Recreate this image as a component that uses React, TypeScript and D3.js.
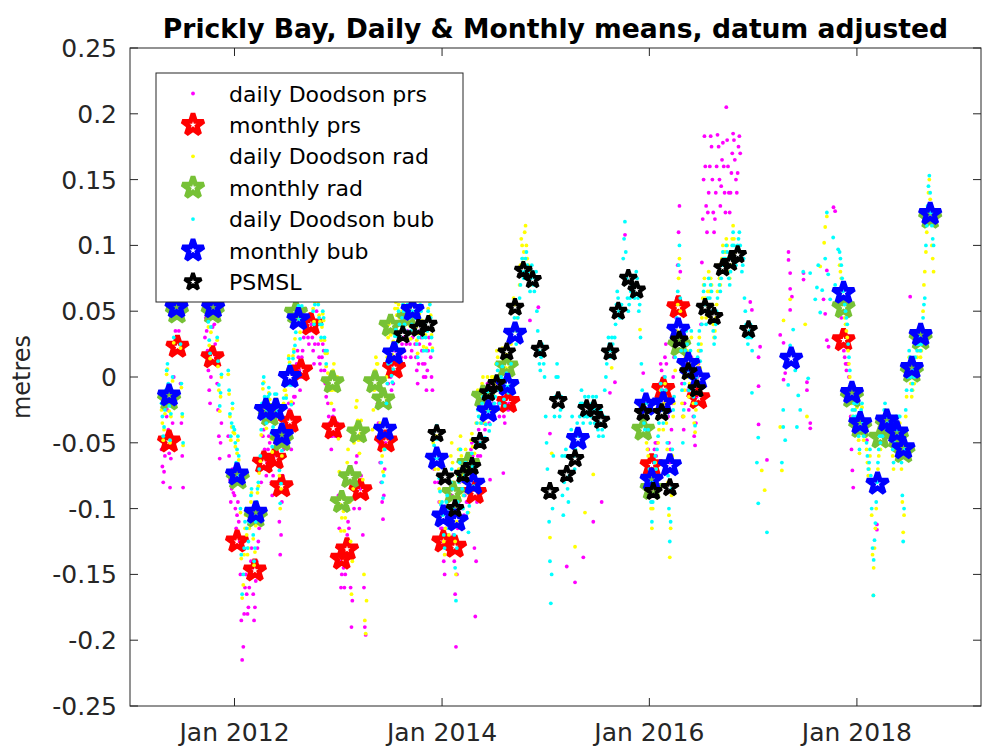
import React from "react";
import * as d3 from "d3";

const W = 982;
const H = 747;
const X0 = 130;
const X1 = 981;
const Y0 = 48;
const Y1 = 706;

const n = null;

// monthly means: [decimal year, metres]
const prsMonthly: [number, number][] = [
  [2011.369, -0.049], [2011.45, 0.023], [2011.788, 0.015], [2012.025, -0.125], [2012.196, -0.147],
  [2012.283, -0.065], [2012.389, -0.062], [2012.453, -0.083], [2012.533, -0.034], [2012.64, 0.005],
  [2012.736, 0.04], [2012.951, -0.039], [2013.032, -0.138], [2013.083, -0.131], [2013.213, -0.086],
  [2013.459, -0.049], [2013.537, 0.007], [2014.012, -0.125], [2014.125, -0.129], [2014.318, -0.088],
  [2014.639, -0.019], [2016.022, -0.067], [2016.134, -0.009], [2016.279, 0.053], [2016.472, -0.016],
  [2017.871, 0.028],
];

const radMonthly: [number, number][] = [
  [2011.369, -0.017], [2011.445, 0.049], [2011.79, 0.049], [2012.032, -0.077], [2012.205, -0.106],
  [2012.34, -0.029], [2012.456, -0.048], [2012.591, 0.049], [2012.943, -0.004], [2013.032, -0.095],
  [2013.112, -0.076], [2013.192, -0.042], [2013.353, -0.004], [2013.433, -0.017], [2013.503, 0.039],
  [2013.672, 0.045], [2014.108, -0.088], [2014.253, -0.066], [2014.395, -0.015], [2014.624, 0.008],
  [2015.941, -0.04], [2016.022, -0.085], [2016.288, 0.024], [2017.871, 0.053], [2017.952, -0.015],
  [2018.032, -0.038], [2018.226, -0.046], [2018.289, -0.036], [2018.386, -0.046], [2018.449, -0.057],
  [2018.53, 0.004], [2018.615, 0.029], [2018.707, 0.121],
];

const bubMonthly: [number, number][] = [
  [2011.369, -0.014], [2011.441, 0.053], [2011.794, 0.053], [2012.025, -0.074], [2012.205, -0.103],
  [2012.302, -0.025], [2012.398, -0.025], [2012.456, -0.044], [2012.533, 0.0], [2012.615, 0.044],
  [2013.45, -0.04], [2013.537, 0.018], [2013.715, 0.051], [2013.949, -0.062], [2014.012, -0.106],
  [2014.141, -0.109], [2014.302, -0.081], [2014.446, -0.026], [2014.631, -0.006], [2014.704, 0.033],
  [2015.311, -0.047], [2015.967, -0.021], [2016.022, -0.078], [2016.134, -0.02], [2016.198, -0.067],
  [2016.279, 0.036], [2016.375, 0.01], [2016.472, -0.001], [2017.366, 0.014], [2017.871, 0.064],
  [2017.952, -0.012], [2018.032, -0.035], [2018.199, -0.081], [2018.289, -0.033], [2018.386, -0.042],
  [2018.449, -0.054], [2018.53, 0.007], [2018.615, 0.032], [2018.707, 0.124],
];

const psmslMonthly: [number, number][] = [
  [2013.621, 0.032], [2013.771, 0.037], [2013.868, 0.04], [2013.949, -0.043], [2014.029, -0.076],
  [2014.125, -0.1], [2014.202, -0.074], [2014.289, -0.068], [2014.366, -0.049], [2014.446, -0.012],
  [2014.527, -0.005], [2014.624, 0.019], [2014.704, 0.053], [2014.784, 0.081], [2014.873, 0.074],
  [2014.945, 0.021], [2015.041, -0.087], [2015.121, -0.018], [2015.203, -0.074], [2015.283, -0.062],
  [2015.395, -0.024], [2015.466, -0.024], [2015.533, -0.033], [2015.622, 0.019], [2015.7, 0.05],
  [2015.797, 0.075], [2015.878, 0.066], [2015.941, -0.027], [2016.038, -0.087], [2016.119, -0.027],
  [2016.198, -0.084], [2016.288, 0.028], [2016.375, 0.004], [2016.456, -0.009], [2016.536, 0.053],
  [2016.623, 0.046], [2016.705, 0.083], [2016.78, 0.087], [2016.85, 0.093], [2016.954, 0.036],
];

// daily values in mm, sampled on days 1, 4, 7 ... 28 of each month
const prsDaily: [string, (number | null)[]][] = [
  ["2011-04", [n, n, n, n, n, n, -55, -68, -80, -72]],
  ["2011-05", [-60, -45, -30, -25, -40, -58, -84, -62, -45, -35]],
  ["2011-06", [0, 20, 35, 50, 55, 45, 35, 20, -5, -35]],
  ["2011-07", [-60, -84, n, n, n, n, n, n, n, n]],
  ["2011-09", [n, n, n, n, n, n, 30, 45, 35, 20]],
  ["2011-10", [5, -10, -20, 0, 20, 38, 48, 40, 25, 15]],
  ["2011-11", [-5, -25, -45, -62, -50, -35, n, n, n, n]],
  ["2011-12", [n, n, n, -45, -60, -78, -95, -85, -70, -88]],
  ["2012-01", [-90, -100, -115, -105, -95, -110, -125, -150, -185, -215]],
  ["2012-02", [-205, -180, -160, -150, -165, -180, -175, -160, -150, -140]],
  ["2012-03", [-130, -145, -165, -185, -175, -155, -140, -130, -125, -115]],
  ["2012-04", [-100, -80, -60, -45, -40, -55, -70, -75, -65, -55]],
  ["2012-05", [-45, -50, -65, -80, -90, -75, -60, -50, -55, -50]],
  ["2012-06", [-65, -85, -110, -135, -120, -95, -75, -55, -45, -45]],
  ["2012-07", [-50, -40, -30, -20, -25, -40, -55, -40, -20, -15]],
  ["2012-08", [-15, -5, 10, 20, 15, 5, -10, 0, 15, 20]],
  ["2012-09", [30, 40, 52, 60, 45, 30, 25, 35, 45, 40]],
  ["2012-10", [30, 20, 10, 25, 40, 50, 40, 25, 15, 10]],
  ["2012-11", [5, 15, 25, 20, 5, -5, -15, -5, -20, -30]],
  ["2012-12", [-35, -45, -55, -45, -30, -25, -35, -45, -40, -35]],
  ["2013-01", [-90, -115, -140, -160, -150, -135, -145, -160, -150, -135]],
  ["2013-02", [-120, -110, -115, -135, -160, -190, -170, -130, -100, -90]],
  ["2013-03", [-80, -65, -60, -75, -90, -100, -85, -75, -90, -120]],
  ["2013-04", [-160, -190, -196, n, n, n, n, n, n, n]],
  ["2013-05", [n, n, n, n, n, n, -20, -35, -50, -65]],
  ["2013-06", [-80, -95, -108, -90, -70, -50, -35, -20, -5, 5]],
  ["2013-07", [10, 0, -10, -15, -5, 10, 20, 25, 15, 20]],
  ["2013-08", [30, 20, 10, 15, 25, 35, 30, 20, 15, 25]],
  ["2013-09", [35, 45, 40, 25, 15, 20, 30, 40, 35, 25]],
  ["2013-10", [15, 5, -5, 10, 25, 35, 30, 20, 10, 0]],
  ["2013-11", [10, 0, -10, 5, 20, 30, 25, 15, 0, -10]],
  ["2013-12", [-60, -70, -80, -65, -55, -65, -80, -95, -105, -115]],
  ["2014-01", [-115, -125, -140, -150, -130, -115, -110, -120, -135, -125]],
  ["2014-02", [-100, -90, -105, -120, -140, -165, -205, -150, -115, -95]],
  ["2014-03", [-95, -80, -70, -85, -100, -115, -105, -90, -80, -95]],
  ["2014-04", [-80, -95, -85, -70, -55, -50, -60, -75, -130, -182]],
  ["2014-05", [-140, -95, -60, -40, -50, -60, -45, -30, -25, -35]],
  ["2014-06", [-40, -30, -15, -5, -20, -35, -30, -15, -5, -10]],
  ["2014-07", [-20, -30, -25, -10, 0, -5, -20, -30, -20, -10]],
  ["2014-08", [-5, -15, -30, -35, -20, -10, -15, -25, -20, -15]],
  ["2015-12", [n, n, n, n, n, n, -20, -30, -45, -55]],
  ["2016-01", [-60, -70, -85, -95, -80, -65, -55, -50, -60, -50]],
  ["2016-02", [-30, -20, -5, 10, 5, -10, -20, 0, 15, 25]],
  ["2016-03", [10, -10, -30, -50, -65, -55, -40, -20, 0, 15]],
  ["2016-04", [30, 45, 60, 85, 110, 130, 80, 30, -5, -30]],
  ["2016-05", [-40, -20, 5, 20, 10, -10, -25, -15, 5, 15]],
  ["2016-06", [-10, -30, -45, -52, -35, -15, 0, 10, 20, -5]],
  ["2016-07", [40, 87, 120, 150, 183, 160, 130, 110, 125, 140]],
  ["2016-08", [160, 183, 175, 150, 125, 110, 120, 140, 160, 184]],
  ["2016-09", [175, 150, 130, 145, 165, 178, 160, 140, 125, 205]],
  ["2016-10", [180, 160, 140, 125, 140, 155, 170, 185, 180, 165]],
  ["2016-11", [150, 140, 155, 175, 183, 170, n, n, n, n]],
  ["2017-11", [60, 55, 45, 35, 25, 20, 15, 10, 5, 10]],
  ["2017-12", [10, 0, -8, -30, -55, -71, -84, n, n, n]],
];

const radDaily: [string, (number | null)[]][] = [
  ["2011-04", [n, n, n, n, n, n, -25, -35, -48, -40]],
  ["2011-05", [-28, -14, 2, 6, -8, -26, -50, -30, -14, -3]],
  ["2011-06", [26, 46, 62, 74, 80, 72, 60, 46, 22, -8]],
  ["2011-07", [-30, -52, n, n, n, n, n, n, n, n]],
  ["2011-09", [n, n, n, n, n, n, 62, 75, 66, 52]],
  ["2011-10", [38, 24, 14, 34, 54, 70, 80, 74, 58, 46]],
  ["2011-11", [28, 8, -10, -26, -15, 0, n, n, n, n]],
  ["2011-12", [n, n, n, 2, -13, -30, -48, -38, -24, -42]],
  ["2012-01", [-43, -53, -68, -58, -48, -63, -78, -103, -138, -168]],
  ["2012-02", [-158, -135, -115, -105, -120, -135, -130, -115, -105, -95]],
  ["2012-03", [-88, -103, -123, -143, -133, -113, -98, -88, -83, -73]],
  ["2012-04", [-64, -44, -24, -9, -4, -19, -34, -39, -29, -19]],
  ["2012-05", [-12, -17, -32, -47, -57, -42, -27, -17, -22, -17]],
  ["2012-06", [-30, -50, -75, -100, -85, -60, -40, -20, -10, -10]],
  ["2012-07", [-14, -4, 6, 16, 11, -4, -19, -4, 16, 21]],
  ["2012-08", [29, 39, 54, 64, 59, 49, 34, 44, 59, 64]],
  ["2012-09", [68, 78, 90, 98, 83, 68, 63, 73, 83, 78]],
  ["2012-10", [62, 52, 42, 57, 72, 82, 72, 57, 47, 42]],
  ["2012-11", [28, 38, 48, 43, 28, 18, 8, 18, 3, -7]],
  ["2012-12", [0, -10, -20, -10, 5, 10, 0, -10, -5, 0]],
  ["2013-01", [-47, -72, -97, -117, -107, -92, -102, -117, -107, -92]],
  ["2013-02", [-65, -55, -70, -95, -125, -165, -140, -85, -50, -40]],
  ["2013-03", [-38, -23, -18, -33, -48, -58, -43, -33, -48, -78]],
  ["2013-04", [-150, -185, -195, -170, n, n, n, n, n, n]],
  ["2013-05", [-40, -25, -10, 5, 15, 10, 10, -5, -20, -35]],
  ["2013-06", [-45, -60, -72, -55, -35, -15, 0, 15, 30, 40]],
  ["2013-07", [42, 32, 22, 17, 27, 42, 52, 57, 47, 52]],
  ["2013-08", [55, 45, 35, 40, 50, 60, 55, 45, 40, 50]],
  ["2013-09", [49, 59, 54, 39, 29, 34, 44, 54, 49, 39]],
  ["2013-10", [38, 28, 18, 33, 48, 58, 53, 43, 33, 23]],
  ["2013-11", [42, 32, 22, 37, 52, 62, 57, 47, 32, 22]],
  ["2013-12", [-50, -60, -70, -55, -45, -55, -70, -85, -95, -105]],
  ["2014-01", [-100, -110, -125, -135, -115, -100, -95, -105, -120, -110]],
  ["2014-02", [-60, -50, -65, -80, -100, -125, -150, -110, -75, -55]],
  ["2014-03", [-70, -55, -45, -60, -75, -90, -80, -65, -55, -70]],
  ["2014-04", [-88, -103, -83, -63, -48, -43, -53, -68, -58, -53]],
  ["2014-05", [-35, -20, -10, -15, -30, -35, -20, -5, 0, -10]],
  ["2014-06", [-35, -25, -10, 0, -15, -30, -25, -10, 0, -5]],
  ["2014-07", [0, -10, -5, 10, 20, 15, 0, -10, 0, 10]],
  ["2014-08", [22, 12, -3, -8, 7, 17, 12, 2, 7, 12]],
  ["2014-09", [25, 35, 50, 60, 55, 40, 35, 45, 55, 50]],
  ["2014-10", [70, 85, 105, 100, 90, 95, 110, 115, 100, 90]],
  ["2014-11", [85, 75, 70, 80, n, n, n, n, n, n]],
  ["2015-12", [n, n, n, n, -20, -30, -45, -50, -55, -60]],
  ["2016-01", [-75, -85, -100, -115, -100, -85, -70, -65, -75, -80]],
  ["2016-02", [-50, -40, -25, -10, -15, -30, -40, -20, -5, -15]],
  ["2016-03", [-35, -55, -80, -105, -137, -115, -90, -60, -30, -20]],
  ["2016-04", [5, 20, 35, 55, 75, 90, 50, 10, -20, -30]],
  ["2016-05", [-30, -10, 15, 30, 20, 0, -15, -5, 15, 30]],
  ["2016-06", [0, -20, -35, -42, -25, -5, 10, 20, 30, 7]],
  ["2016-07", [25, 45, 60, 70, 75, 60, 45, 55, 65, 80]],
  ["2016-08", [65, 75, 70, 55, 40, 30, 35, 45, 55, 65]],
  ["2016-09", [85, 75, 70, 80, 90, 100, 95, 90, 95, 105]],
  ["2016-10", [100, 90, 80, 75, 85, 95, 105, 115, 105, 95]],
  ["2017-11", [85, 80, 75, 65, 55, 50, 45, 40, 35, 30]],
  ["2017-12", [20, 10, 0, -10, -20, -30, -35, -25, -25, -35]],
  ["2018-01", [-23, -33, -48, -58, -43, -28, -23, -38, -48, -38]],
  ["2018-02", [-45, -55, -65, -75, -70, -60, -80, -105, -135, -166]],
  ["2018-03", [-145, -130, -115, -100, -85, -70, -60, -50, -55, -50]],
  ["2018-04", [-50, -40, -30, -25, -35, -45, -40, -35, -40, -40]],
  ["2018-05", [-35, -45, -60, -70, -55, -40, -35, -45, -50, -35]],
  ["2018-06", [-35, -50, -70, -95, -118, -105, -60, -30, -15, 5]],
  ["2018-07", [5, 15, 10, -5, -15, -10, 0, -5, 10, 35]],
  ["2018-08", [15, 20, 25, 20, 15, 20, 30, 50, 70, 80]],
  ["2018-09", [95, 110, 125, 140, 150, 135, 120, 100, 90, 80]],
];

const bubDaily: [string, (number | null)[]][] = [
  ["2011-04", [n, n, n, n, n, n, -20, -30, -45, -38]],
  ["2011-05", [-25, -10, 5, 10, -5, -22, -48, -28, -10, 0]],
  ["2011-06", [30, 50, 65, 78, 85, 75, 65, 50, 25, -5]],
  ["2011-07", [-28, -50, n, n, n, n, n, n, n, n]],
  ["2011-09", [n, n, n, n, n, n, 65, 78, 70, 55]],
  ["2011-10", [42, 28, 18, 38, 58, 75, 85, 78, 62, 50]],
  ["2011-11", [30, 12, -6, -22, -12, 2, n, n, n, n]],
  ["2011-12", [n, n, n, 5, -10, -28, -45, -35, -20, -38]],
  ["2012-01", [-40, -50, -65, -55, -45, -60, -75, -100, -135, -165]],
  ["2012-02", [-150, -130, -110, -100, -115, -130, -125, -110, -100, -90]],
  ["2012-03", [-85, -100, -120, -140, -130, -110, -95, -85, -80, -70]],
  ["2012-04", [-60, -40, -20, -5, 0, -15, -30, -35, -25, -15]],
  ["2012-05", [-8, -13, -28, -43, -53, -38, -23, -13, -18, -13]],
  ["2012-06", [-26, -46, -71, -96, -81, -56, -36, -16, -6, -6]],
  ["2012-07", [-16, -6, 4, 14, 9, -6, -21, -6, 14, 19]],
  ["2012-08", [24, 34, 49, 59, 54, 44, 29, 39, 54, 59]],
  ["2012-09", [65, 75, 87, 95, 80, 65, 60, 70, 80, 75]],
  ["2012-10", [60, 50, 40, 55, 70, 80, 70, 55, 45, 40]],
  ["2012-11", [30, 40, 50, 45, 30, 20, 10, 20, n, n]],
  ["2013-06", [-65, -80, -92, -75, -55, -35, -20, -5, 10, 20]],
  ["2013-07", [21, 11, 1, -4, 6, 21, 31, 36, 26, 31]],
  ["2013-08", [50, 40, 30, 35, 45, 55, 50, 40, 35, 45]],
  ["2013-09", [55, 65, 60, 45, 35, 40, 50, 60, 55, 45]],
  ["2013-10", [35, 25, 15, 30, 45, 55, 50, 40, 30, 20]],
  ["2013-11", [40, 30, 20, 35, 50, 60, 55, 45, 30, 20]],
  ["2013-12", [-42, -52, -62, -47, -37, -47, -62, -77, -87, -97]],
  ["2014-01", [-95, -105, -120, -130, -110, -95, -90, -100, -115, -105]],
  ["2014-02", [-80, -70, -85, -100, -120, -145, -170, -130, -95, -75]],
  ["2014-03", [-80, -65, -55, -70, -85, -100, -90, -75, -65, -80]],
  ["2014-04", [-103, -118, -98, -78, -63, -58, -68, -83, -73, -68]],
  ["2014-05", [-50, -35, -25, -30, -45, -50, -35, -20, -15, -25]],
  ["2014-06", [-46, -36, -21, -11, -26, -41, -36, -21, -11, -16]],
  ["2014-07", [-10, -20, -15, 0, 10, 5, -10, -20, -10, 0]],
  ["2014-08", [8, -2, -17, -22, -7, 3, -2, -12, -7, -2]],
  ["2014-09", [10, 20, 35, 50, 45, 30, 25, 35, 45, 35]],
  ["2014-10", [60, 70, 80, 90, 85, 75, 80, 90, 95, 85]],
  ["2014-11", [80, 70, 65, 75, 85, 80, 70, 65, 75, 80]],
  ["2014-12", [50, 35, 20, 10, 5, 15, 25, 20, 10, 0]],
  ["2015-01", [-30, -50, -70, -90, -110, -140, -172, -150, -100, -60]],
  ["2015-02", [-30, -15, 0, 10, 0, -15, -30, -25, -15, -60]],
  ["2015-03", [-90, -105, -80, -60, -55, -70, -85, -95, -75, -60]],
  ["2015-04", [-40, -30, -45, -60, -70, -55, -40, -35, -50, -45]],
  ["2015-05", [-30, -20, -10, -20, -35, -30, -15, -20, -30, -30]],
  ["2015-06", [-15, -25, -35, -30, -20, -15, -25, -35, -25, -15]],
  ["2015-07", [-30, -40, -45, -35, -25, -30, -40, -45, -30, -10]],
  ["2015-08", [0, 10, 20, 30, 25, 15, 20, 30, 25, 15]],
  ["2015-09", [30, 40, 55, 65, 60, 50, 45, 55, 55, 45]],
  ["2015-10", [90, 105, 118, 95, 75, 60, 50, 55, 60, 65]],
  ["2015-11", [70, 75, 65, 60, 70, 80, 75, 60, 50, 55]],
  ["2015-12", [30, 10, -10, -25, -35, -40, -30, -20, -30, -40]],
  ["2016-01", [-70, -80, -95, -110, -95, -80, -65, -60, -70, -55]],
  ["2016-02", [-45, -35, -20, -5, -10, -25, -35, -15, 0, -10]],
  ["2016-03", [-30, -50, -75, -100, -125, -110, -85, -55, -25, -15]],
  ["2016-04", [15, 30, 45, 65, 85, 100, 60, 20, -10, -50]],
  ["2016-05", [-25, -5, 20, 35, 25, 5, -10, 0, 20, 35]],
  ["2016-06", [5, -15, -30, -37, -20, 0, 15, 25, 35, 12]],
  ["2016-07", [20, 40, 55, 65, 70, 55, 40, 50, 60, 75]],
  ["2016-08", [60, 70, 65, 50, 35, 25, 30, 40, 50, 60]],
  ["2016-09", [80, 70, 65, 75, 85, 95, 90, 85, 90, 100]],
  ["2016-10", [95, 85, 75, 70, 80, 90, 100, 110, 100, 90]],
  ["2016-11", [85, 90, 100, 105, 110, 100, 90, 80, 85, 90]],
  ["2016-12", [60, 50, 40, 30, 25, 30, 35, 40, 30, 20]],
  ["2017-11", [95, 90, 85, 75, 65, 60, 55, 50, 45, 40]],
  ["2017-12", [25, 15, 5, -5, -15, -25, -30, -20, -25, -30]],
  ["2018-01", [-20, -30, -45, -55, -40, -25, -20, -35, -45, -35]],
  ["2018-02", [-40, -50, -60, -70, -65, -55, -75, -100, -130, -166]],
  ["2018-03", [-139, -124, -111, -95, -80, -65, -55, -45, -50, -45]],
  ["2018-04", [-45, -35, -25, -20, -30, -40, -35, -30, -35, -35]],
  ["2018-05", [-30, -40, -55, -65, -50, -35, -30, -40, -45, -30]],
  ["2018-06", [-30, -45, -65, -90, -125, -100, -55, -25, -10, 0]],
  ["2018-07", [10, 20, 15, 0, -10, -5, 5, 0, 15, 25]],
  ["2018-08", [20, 25, 30, 25, 20, 25, 35, 45, 55, 60]],
  ["2018-09", [100, 115, 130, 145, 153, 140, 125, 115, 105, 100]],
];

// scattered daily values where the record is broken: [decimal year, metres]
const prsDailySparse: [number, number][] = [
  [2014.463, -0.078], [2014.591, -0.073], [2014.848, 0.043], [2014.929, 0.053], [2015.041, -0.043],
  [2015.203, -0.144], [2015.283, -0.156], [2015.363, -0.137], [2015.459, -0.11], [2015.54, -0.095],
  [2015.62, -0.012], [2015.668, -0.004], [2015.765, 0.108], [2015.941, 0.003],
  [2016.971, 0.057], [2016.987, 0.051], [2017.066, 0.023], [2017.051, 0.015], [2017.051, -0.007],
  [2017.051, -0.036], [2017.132, -0.063], [2017.26, 0.032], [2017.34, 0.095], [2017.34, 0.089],
  [2017.356, 0.079], [2017.356, 0.067], [2017.373, 0.061], [2017.356, 0.051], [2017.292, 0.026],
  [2017.308, 0.003], [2017.292, -0.002], [2017.485, 0.079], [2017.485, 0.074], [2017.518, -0.004],
  [2017.518, -0.01], [2017.55, -0.035], [2017.55, -0.039], [2017.71, 0.081], [2017.678, 0.059],
  [2017.694, 0.048], [2017.71, 0.028], [2017.726, 0.023], [2017.774, 0.129], [2017.79, 0.126],
  [2018.096, -0.048], [2018.193, -0.112], [2018.193, -0.116], [2018.514, 0.061],
];

const radDailySparse: [number, number][] = [
  [2015.041, -0.122], [2015.058, -0.058], [2015.283, -0.129], [2015.379, -0.103], [2015.459, -0.074],
  [2015.637, 0.007], [2015.91, 0.036], [2017.082, -0.071], [2017.11, -0.086], [2017.26, -0.038],
  [2017.276, -0.071], [2017.292, 0.043], [2017.356, 0.059], [2017.501, 0.04], [2017.518, -0.03],
  [2017.646, 0.084], [2017.684, 0.102], [2017.694, 0.114], [2017.71, 0.122],
];

const bubDailySparse: [number, number][] = [
  [2016.987, -0.012], [2017.035, -0.065], [2017.048, -0.096], [2017.048, -0.046], [2017.132, -0.118],
  [2017.276, -0.065], [2017.289, -0.038], [2017.289, -0.025], [2017.308, -0.048], [2017.318, 0.013],
  [2017.337, -0.006], [2017.356, 0.024], [2017.385, 0.036], [2017.405, 0.005], [2017.421, -0.038],
  [2017.434, -0.014], [2017.453, -0.025], [2017.482, 0.08], [2017.53, -0.001], [2017.549, 0.079],
  [2017.598, 0.059], [2017.614, 0.068], [2017.627, 0.085], [2017.646, 0.049], [2017.665, 0.066],
  [2017.694, 0.09], [2017.71, 0.125], [2017.723, 0.078], [2017.742, 0.059], [2017.771, 0.106],
  [2017.79, 0.07], [2017.819, 0.097],
];

const xTickYears = [2012, 2014, 2016, 2018];
const xTickLabels = ["Jan 2012", "Jan 2014", "Jan 2016", "Jan 2018"];

const legendLabels = [
  "daily Doodson prs",
  "monthly prs",
  "daily Doodson rad",
  "monthly rad",
  "daily Doodson bub",
  "monthly bub",
  "PSMSL",
];

const C = {
  prs: "#ff00ff",
  prsM: "#ff0000",
  rad: "#ffff00",
  radM: "#77c136",
  bub: "#00ffff",
  bubM: "#0000ff",
  psmsl: "#000000",
  axis: "#262626",
};

const FONT = "DejaVu Sans, sans-serif";

const fromYear = (t: number) => {
  const y = Math.floor(t);
  const a = new Date(y, 0, 1).getTime();
  const b = new Date(y + 1, 0, 1).getTime();
  return new Date(a + (t - y) * (b - a));
};

const dailyPoints = (blocks: [string, (number | null)[]][], sparse: [number, number][]) => {
  const pts: { date: Date; value: number }[] = [];
  blocks.forEach(([ym, vals]) => {
    const [y, m] = ym.split("-").map(Number);
    vals.forEach((v, i) => {
      if (v == null) return;
      pts.push({ date: new Date(y, m - 1, 1 + 3 * i), value: v / 1000 });
    });
  });
  sparse.forEach(([t, v]) => pts.push({ date: fromYear(t), value: v }));
  return pts;
};

const starPath = (R: number) => {
  const r = R * 0.382;
  const pts = d3.range(10).map((i) => {
    const a = -Math.PI / 2 + (i * Math.PI) / 5;
    const rr = i % 2 === 0 ? R : r;
    return [rr * Math.cos(a), rr * Math.sin(a)];
  });
  return "M" + pts.map((p) => p[0].toFixed(2) + "," + p[1].toFixed(2)).join("L") + "Z";
};

const STAR = {
  big: { d: starPath(11.3), w: 4.8 },
  small: { d: starPath(8.8), w: 3.7 },
};

export default function App() {
  const x = d3
    .scaleTime()
    .domain([new Date(2010, 11, 29), new Date(2019, 2, 14)])
    .range([X0, X1]);
  const y = d3.scaleLinear().domain([-0.25, 0.25]).range([Y1, Y0]);

  const dots = (pts: { date: Date; value: number }[], color: string, key: string) => (
    <g key={key} clipPath="url(#plot)">
      {pts.map((p, i) => (
        <circle key={i} cx={x(p.date)} cy={y(p.value)} r={1.9} fill={color} />
      ))}
    </g>
  );

  const starMark = (size: "big" | "small", color: string, cx: number, cy: number, key: string | number) => (
    <path
      key={key}
      d={STAR[size].d}
      transform={`translate(${cx},${cy})`}
      fill="none"
      stroke={color}
      strokeWidth={STAR[size].w}
      strokeLinejoin="miter"
      strokeMiterlimit={2.2}
    />
  );

  const stars = (data: [number, number][], color: string, size: "big" | "small", key: string) => (
    <g key={key} clipPath="url(#plot)">
      {data.map(([t, v], i) => starMark(size, color, x(fromYear(t)), y(v), i))}
    </g>
  );

  const yTicks = y.ticks(10);
  const fmt = (v: number) => String(+v.toFixed(2));

  const legendItems = [
    { type: "dot", color: C.prs },
    { type: "big", color: C.prsM },
    { type: "dot", color: C.rad },
    { type: "big", color: C.radM },
    { type: "dot", color: C.bub },
    { type: "big", color: C.bubM },
    { type: "small", color: C.psmsl },
  ];

  return (
    <svg
      width={W}
      height={H}
      style={{ position: "absolute", left: 0, top: 0, background: "#fff" }}
      fontFamily={FONT}
    >
      <defs>
        <clipPath id="plot">
          <rect x={X0} y={Y0} width={X1 - X0} height={Y1 - Y0} />
        </clipPath>
      </defs>
      <rect x={0} y={0} width={W} height={H} fill="#fff" />

      {dots(dailyPoints(prsDaily, prsDailySparse), C.prs, "pd")}
      {stars(prsMonthly, C.prsM, "big", "pm")}
      {dots(dailyPoints(radDaily, radDailySparse), C.rad, "rd")}
      {stars(radMonthly, C.radM, "big", "rm")}
      {dots(dailyPoints(bubDaily, bubDailySparse), C.bub, "bd")}
      {stars(bubMonthly, C.bubM, "big", "bm")}
      {stars(psmslMonthly, C.psmsl, "small", "ps")}

      {/* axes box */}
      <rect x={X0} y={Y0} width={X1 - X0} height={Y1 - Y0} fill="none" stroke={C.axis} strokeWidth={1} />
      {yTicks.map((t) => (
        <g key={"y" + t}>
          <line x1={X0} x2={X0 + 8} y1={y(t)} y2={y(t)} stroke={C.axis} />
          <line x1={X1 - 8} x2={X1} y1={y(t)} y2={y(t)} stroke={C.axis} />
          <text x={117} y={y(t) + 9} textAnchor="end" fontSize={25} fill={C.axis}>
            {fmt(t)}
          </text>
        </g>
      ))}
      {xTickYears.map((yr, i) => {
        const px = x(new Date(yr, 0, 1));
        return (
          <g key={"x" + yr}>
            <line x1={px} x2={px} y1={Y1} y2={Y1 - 8} stroke={C.axis} />
            <line x1={px} x2={px} y1={Y0} y2={Y0 + 8} stroke={C.axis} />
            <text x={px} y={741} textAnchor="middle" fontSize={25} fill={C.axis}>
              {xTickLabels[i]}
            </text>
          </g>
        );
      })}

      <text x={30} y={(Y0 + Y1) / 2} transform={`rotate(-90, 30, ${(Y0 + Y1) / 2})`} textAnchor="middle" fontSize={24} fill={C.axis}>
        metres
      </text>
      <text x={(X0 + X1) / 2} y={38} textAnchor="middle" fontSize={26.6} fontWeight="bold" fill="#000">
        Prickly Bay, Daily &amp; Monthly means, datum adjusted
      </text>

      {/* legend */}
      <rect x={156} y={73} width={307} height={229} fill="#fff" stroke={C.axis} strokeWidth={1} />
      {legendItems.map((it, i) => {
        const cy = 93.5 + i * 31.4;
        return (
          <g key={"l" + i}>
            {it.type === "dot" ? (
              <circle cx={193} cy={cy} r={1.9} fill={it.color} />
            ) : (
              starMark(it.type as "big" | "small", it.color, 193, cy, "s")
            )}
            <text x={229} y={cy + 8} fontSize={22} fill="#000">
              {legendLabels[i]}
            </text>
          </g>
        );
      })}
    </svg>
  );
}
